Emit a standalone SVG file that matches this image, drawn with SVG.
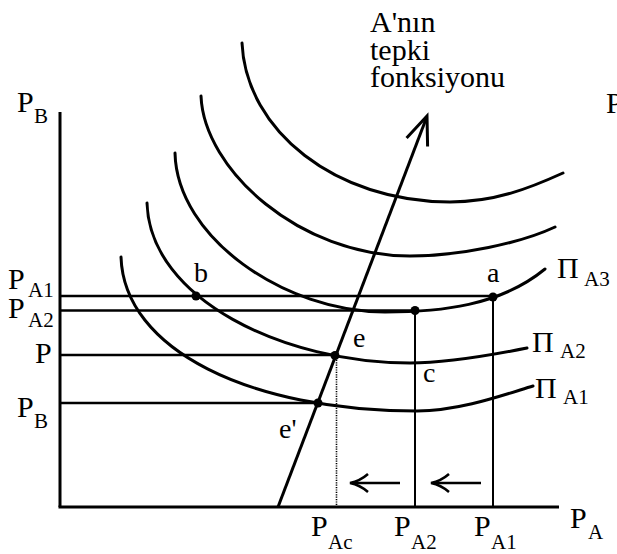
<svg xmlns="http://www.w3.org/2000/svg" width="617" height="554" viewBox="0 0 617 554">
<style>
  .curve { fill: none; stroke: #000; stroke-width: 3; stroke-linecap: round; }
  .axis { fill: none; stroke: #000; stroke-width: 3; }
  .guide { fill: none; stroke: #000; stroke-width: 2.5; }
  .vguide { fill: none; stroke: #000; stroke-width: 2; }
  .dotted { fill: none; stroke: #000; stroke-width: 1.6; stroke-dasharray: 1.2 1.2; }
  .arr { fill: none; stroke: #000; stroke-width: 3; stroke-linejoin: miter; }
  .dot { fill: #000; }
  text { font-family: "Liberation Serif", "Times New Roman", serif; fill: #000; }
  .lab { font-size: 30px; }
  .sub { font-size: 21px; }
  .pt { font-size: 28px; }
  .note { font-size: 30px; }
</style>

<g id="axes">
  <line class="axis" x1="60" y1="112" x2="60" y2="507"/>
  <line class="axis" x1="58.5" y1="507" x2="559" y2="507"/>
  <text class="lab" x="17" y="112">P<tspan class="sub" x="34" y="123">B</tspan></text>
  <text class="lab" x="570" y="528">P<tspan class="sub" x="588" y="539">A</tspan></text>
  <text class="lab" x="606" y="113">P</text>
</g>

<g id="isoprofit-curves">
  <path id="curve-1" class="curve" d="M242,43 C246,131 336,202 450,202 C495,202 530,188 563,173"/>
  <path id="curve-2" class="curve" d="M201,96 C204,170 300,256 410,256 C460,256 521,243 555,227"/>
  <path id="curve-PiA3" class="curve" d="M175,153 C177,238 285,312 385,312 C440,312 500,306 545,269"/>
  <path id="curve-PiA2" class="curve" d="M147,203 C150,300 285,363 410,363 C450,363 497,354 527,348"/>
  <path id="curve-PiA1" class="curve" d="M121,257 C124,350 250,411 417,411 C460,411 505,394.5 533,386"/>
</g>

<g id="connectors">
  <line class="guide" x1="60" y1="296" x2="493" y2="296"/>
  <line class="guide" x1="60" y1="310.5" x2="415" y2="310.5"/>
  <line class="guide" x1="60" y1="355" x2="335" y2="355"/>
  <line class="guide" x1="60" y1="403" x2="318" y2="403"/>
  <line class="vguide" x1="415" y1="310.5" x2="415" y2="507"/>
  <line class="vguide" x1="493" y1="297" x2="493" y2="507"/>
  <line class="dotted" x1="336.5" y1="355" x2="336.5" y2="507"/>
  <line class="arr" x1="278" y1="507" x2="426" y2="119"/>
  <path class="arr" d="M406.6,138 L427,116 L427.6,146.5"/>
  <line class="arr" x1="352" y1="483" x2="400" y2="483" style="stroke-width:2.5"/>
  <path class="arr" style="stroke-width:2.5" d="M368,474 Q360,481 350,483 Q360,485 368,492"/>
  <line class="arr" x1="433" y1="483" x2="481" y2="483" style="stroke-width:2.5"/>
  <path class="arr" style="stroke-width:2.5" d="M449,474 Q441,481 431,483 Q441,485 449,492"/>
</g>

<g id="point-b"><circle class="dot" cx="196" cy="296" r="4.5"/><text class="pt" x="194" y="282">b</text></g>
<g id="point-a"><circle class="dot" cx="493" cy="297" r="4.5"/><text class="pt" x="487" y="282">a</text></g>
<g id="point-PA2"><circle class="dot" cx="415" cy="310.5" r="4.5"/></g>
<g id="point-e"><circle class="dot" cx="335" cy="355.5" r="4.5"/><text class="pt" x="353" y="347">e</text></g>
<g id="point-c"><text class="pt" x="423" y="382">c</text></g>
<g id="point-e-prime"><circle class="dot" cx="318" cy="403" r="4.5"/><text class="pt" x="279" y="438">e'</text></g>

<g id="reaction-label">
  <text class="note" x="370" y="32">A'nın<tspan x="370" y="59.5">tepki</tspan><tspan x="370" y="87">fonksiyonu</tspan></text>
</g>

<g id="curve-labels">
  <text class="lab" x="557" y="278">Π<tspan class="sub" x="584" y="286">A3</tspan></text>
  <text class="lab" x="532" y="352">Π<tspan class="sub" x="560" y="358">A2</tspan></text>
  <text class="lab" x="535" y="398">Π<tspan class="sub" x="563" y="404">A1</tspan></text>
</g>

<g id="y-labels">
  <text class="lab" x="8" y="289">P<tspan class="sub" x="28" y="297">A1</tspan></text>
  <text class="lab" x="8" y="318">P<tspan class="sub" x="28" y="327">A2</tspan></text>
  <text class="lab" x="35" y="363">P</text>
  <text class="lab" x="17" y="417">P<tspan class="sub" x="34" y="428">B</tspan></text>
</g>

<g id="x-labels">
  <text class="lab" x="311" y="536">P<tspan class="sub" x="328" y="549">Ac</tspan></text>
  <text class="lab" x="394" y="536">P<tspan class="sub" x="411" y="549">A2</tspan></text>
  <text class="lab" x="474" y="536">P<tspan class="sub" x="491" y="549">A1</tspan></text>
</g>
</svg>
